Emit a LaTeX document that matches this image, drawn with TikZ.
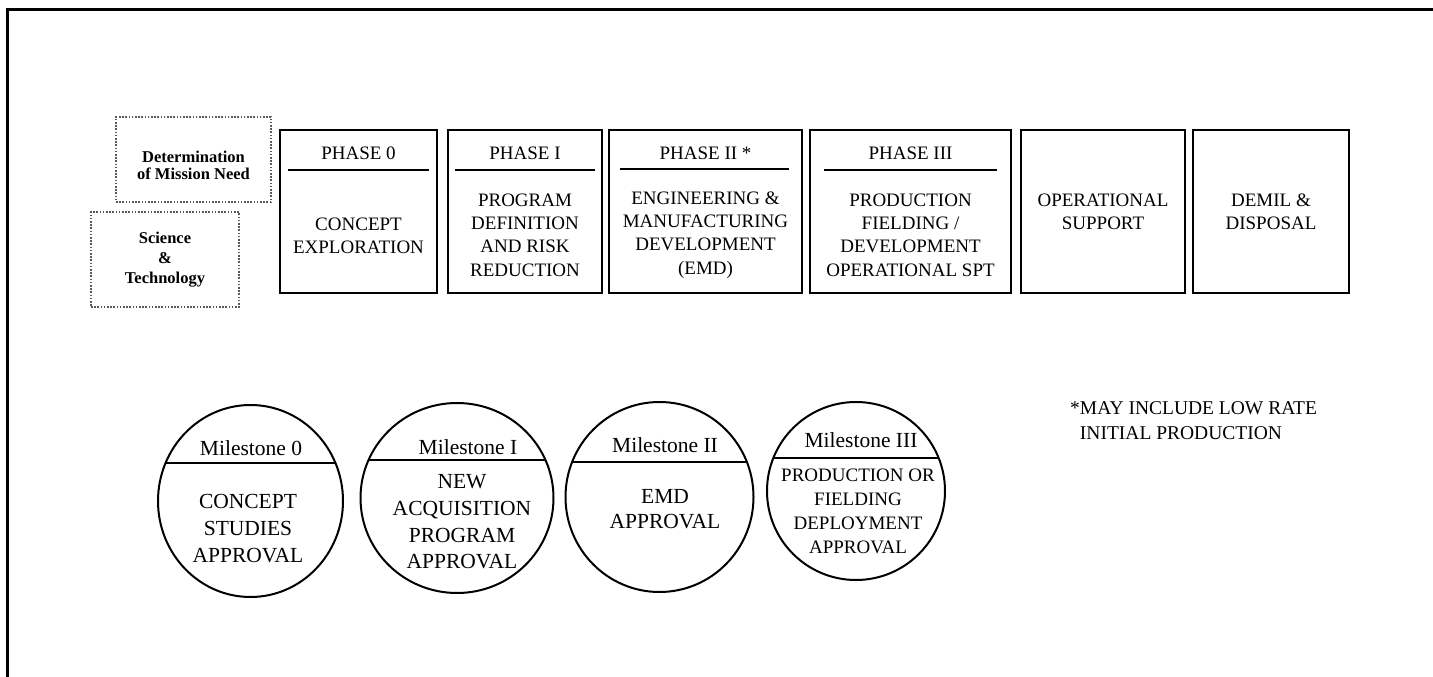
\documentclass[tikz,border=0pt]{standalone}
\usepackage{fontspec}
\setmainfont{Liberation Serif}
\usetikzlibrary{shapes.geometric,calc}
\tikzset{
  phasebox/.style={draw, line width=2pt, rectangle, inner sep=0pt},
  dotbox/.style={draw=black!65, line width=1.2pt, dash pattern=on 1.6pt off 1.6pt, rectangle, inner sep=0pt},
  msnode/.style={draw, line width=2pt, ellipse, inner sep=0pt},
  divline/.style={line width=2.4pt},
  hd/.style={font=\fontsize{19}{23}\selectfont, inner sep=0pt},
  bt/.style={font=\fontsize{19}{23.3}\selectfont, align=center, inner sep=0pt},
  mst/.style={font=\fontsize{21.5}{26}\selectfont, inner sep=0pt},
  mbt/.style={font=\fontsize{21.5}{26.6}\selectfont, align=center, inner sep=0pt},
  mbsmall/.style={font=\fontsize{19}{24}\selectfont, align=center, inner sep=0pt},
  sbt/.style={font=\fontsize{16.5}{17}\selectfont\bfseries, align=center, inner sep=0pt},
  note/.style={font=\fontsize{19.5}{25}\selectfont, align=left, inner sep=0pt, anchor=west}
}
\begin{document}
\begin{tikzpicture}[x=1pt,y=-1pt]
\useasboundingbox (0,0) rectangle (1433,677);
\fill[white] (0,0) rectangle (1433,677);
\draw[line width=2.2pt] (7.5,677) -- (7.5,9.5) -- (1433,9.5);

% dotted boxes
\node[dotbox, minimum width=155pt, minimum height=85pt] (det) at (193.5,159.5) {};
\node[sbt] (dett) at (193.5,165) {Determination\\of Mission Need};
\node[dotbox, minimum width=148pt, minimum height=95pt] (sci) at (165,259.5) {};
\node[sbt, font=\fontsize{16.5}{20}\selectfont\bfseries] (scit) at (165,260) {Science\\\&\\Technology};

% phase boxes
\node[phasebox, minimum width=157pt, minimum height=163pt] (p0) at (358.5,211.5) {};
\node[phasebox, minimum width=154pt, minimum height=163pt] (p1) at (525,211.5) {};
\node[phasebox, minimum width=193pt, minimum height=163pt] (p2) at (705.5,211.5) {};
\node[phasebox, minimum width=201pt, minimum height=163pt] (p3) at (910.5,211.5) {};
\node[phasebox, minimum width=164pt, minimum height=163pt] (op) at (1103,211.5) {};
\node[phasebox, minimum width=156pt, minimum height=163pt] (dm) at (1271,211.5) {};

\draw[divline] ($(p0.north west)+(9,41)$) -- ($(p0.north east)+(-9,41)$);
\draw[divline] ($(p1.north west)+(8,41)$) -- ($(p1.north east)+(-8,41)$);
\draw[divline] ($(p2.north west)+(12,40)$) -- ($(p2.north east)+(-14,40)$);
\draw[divline] ($(p3.north west)+(15,41)$) -- ($(p3.north east)+(-15,41)$);

\node[hd] (p0h) at (358.5,153) {PHASE 0};
\node[hd] (p1h) at (525,153) {PHASE I};
\node[hd] (p2h) at (705.5,153) {PHASE II *};
\node[hd] (p3h) at (910.5,153) {PHASE III};

\node[bt] (p0t) at (358.5,236) {CONCEPT\\EXPLORATION};
\node[bt] (p1t) at (525,235) {PROGRAM\\DEFINITION\\AND RISK\\REDUCTION};
\node[bt] (p2t) at (705.5,235) {ENGINEERING \&\\MANUFACTURING\\DEVELOPMENT\\(EMD)};
\node[bt] (p3t) at (910.5,235) {PRODUCTION\\FIELDING /\\DEVELOPMENT\\OPERATIONAL SPT};
\node[bt] (opt) at (1103,211.5) {OPERATIONAL\\SUPPORT};
\node[bt] (dmt) at (1271,211.5) {DEMIL \&\\DISPOSAL};

% milestones
\node[msnode, minimum width=185pt, minimum height=192pt] (c0) at (250.5,501) {};
\node[msnode, minimum width=193pt, minimum height=190pt] (c1) at (457,498) {};
\node[msnode, minimum width=188pt, minimum height=190pt] (c2) at (659.5,497) {};
\node[msnode, minimum width=178pt, minimum height=178pt] (c3) at (856,491) {};

\draw[divline] ($(c0.center)+(-84.9,-38)$) -- ($(c0.center)+(84.9,-38)$);
\draw[divline] ($(c1.center)+(-88.4,-38)$) -- ($(c1.center)+(88.4,-38)$);
\draw[divline] ($(c2.center)+(-87.4,-35)$) -- ($(c2.center)+(87.4,-35)$);
\draw[divline] ($(c3.center)+(-82.7,-33)$) -- ($(c3.center)+(82.7,-33)$);

\node[mst] (c0h) at (251,448) {Milestone 0};
\node[mst] (c1h) at (468,447) {Milestone I};
\node[mst] (c2h) at (665,445) {Milestone II};
\node[mst] (c3h) at (861,440) {Milestone III};

\node[mbt] (c0t) at (248,528.5) {CONCEPT\\STUDIES\\APPROVAL};
\node[mbt] (c1t) at (462,522) {NEW\\ACQUISITION\\PROGRAM\\APPROVAL};
\node[mbt, font=\fontsize{21.5}{25}\selectfont] (c2t) at (665,509.5) {EMD\\APPROVAL};
\node[mbsmall] (c3t) at (858,511) {PRODUCTION OR\\FIELDING\\DEPLOYMENT\\APPROVAL};

% note
\node[note] (nt) at (1070,420.5) {*MAY INCLUDE LOW RATE\\\hphantom{*}INITIAL PRODUCTION};
\end{tikzpicture}
\end{document}
